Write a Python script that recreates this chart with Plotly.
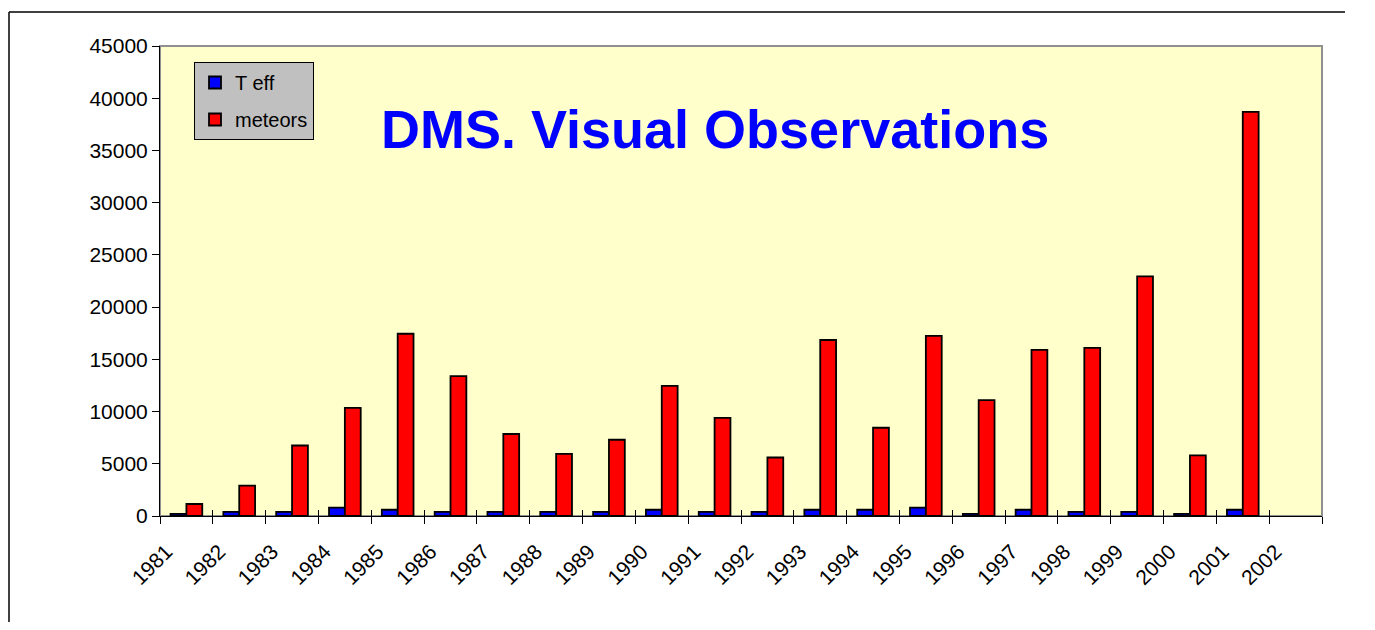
import plotly.graph_objects as go

years = [str(y) for y in range(1981, 2003)]
t_eff = [200, 400, 400, 800, 600, 400, 400, 400, 400, 600, 400, 400,
         600, 600, 800, 200, 600, 400, 400, 200, 600, None]
meteors = [1150, 2900, 6750, 10350, 17450, 13400, 7850, 5950, 7300, 12450, 9400, 5600,
           16850, 8450, 17250, 11100, 15900, 16100, 22950, 5800, 38700, None]
y_ticks = list(range(0, 45001, 5000))

FONT = "Arial, Liberation Sans, sans-serif"
W, H = 1359, 614
L, R, T, B = 152, 45, 38, 106
pw = W - L - R
ph = H - T - B
OFF = 8

def px_x(x):
    return (x - OFF - L) / pw

def px_y(y):
    return (H - B - (y - OFF)) / ph

boundaries = [i - 0.5 for i in range(len(years) + 1)]

fig = go.Figure()
fig.add_trace(go.Bar(x=years, y=t_eff, name="T eff", legendgroup="a",
                     marker=dict(color="#0000ff", line=dict(color="black", width=1.8))))
fig.add_trace(go.Bar(x=years, y=meteors, name="meteors", legendgroup="b",
                     marker=dict(color="#ff0000", line=dict(color="black", width=1.8))))

fig.update_layout(
    width=W, height=H,
    margin=dict(l=L, r=R, t=T, b=B),
    paper_bgcolor="white",
    plot_bgcolor="#ffffcc",
    barmode="group",
    bargap=0.4,
    bargroupgap=0,
    font=dict(family=FONT, size=21, color="black"),
    showlegend=True,
    legend=dict(x=px_x(194), y=px_y(62), xanchor="left", yanchor="top",
                bgcolor="#c0c0c0", bordercolor="black", borderwidth=1,
                font=dict(family=FONT, size=20, color="black"),
                traceorder="grouped", tracegroupgap=8,
                itemwidth=30),
    xaxis=dict(type="category", categoryorder="array", categoryarray=years,
               range=[-0.5, len(years) - 0.5],
               tickangle=-45, tickson="boundaries", ticks="outside", ticklen=7,
               tickcolor="black", showline=True, linecolor="black", linewidth=1,
               showgrid=False, tickfont=dict(family=FONT, size=21),
               ticklabelshift=-20, ticklabelstandoff=14),
    xaxis2=dict(overlaying="x", anchor="y", side="bottom",
                range=[-0.5, len(years) - 0.5], tickvals=boundaries,
                ticks="inside", ticklen=6, tickcolor="black",
                showticklabels=False, showgrid=False, zeroline=False, showline=False),
    yaxis=dict(range=[0, 45000], tickvals=y_ticks, ticktext=[str(v) for v in y_ticks],
               ticks="outside", ticklen=7, tickcolor="black",
               showline=True, linecolor="black", linewidth=1, showgrid=False,
               zeroline=False, tickfont=dict(family=FONT, size=21)),
    shapes=[
        dict(type="rect", xref="paper", yref="paper", x0=0, y0=0, x1=1, y1=1,
             line=dict(color="#909090", width=2), layer="below"),
        dict(type="line", xref="paper", yref="paper",
             x0=px_x(9), y0=px_y(12), x1=px_x(1345), y1=px_y(12),
             line=dict(color="black", width=1.5)),
        dict(type="line", xref="paper", yref="paper",
             x0=px_x(9), y0=px_y(12), x1=px_x(9), y1=px_y(622),
             line=dict(color="black", width=1.5)),
    ],
    annotations=[
        dict(text="<b>DMS. Visual Observations</b>", xref="paper", yref="paper",
             x=px_x(715), y=px_y(129), xanchor="center", yanchor="middle",
             showarrow=False, font=dict(family=FONT, size=54, color="#0000ff")),
    ],
)
fig.add_trace(go.Scatter(x=[boundaries[0]], y=[0], xaxis="x2", mode="markers",
                         marker=dict(opacity=0), showlegend=False, hoverinfo="skip"))

fig.write_html("out.html")
